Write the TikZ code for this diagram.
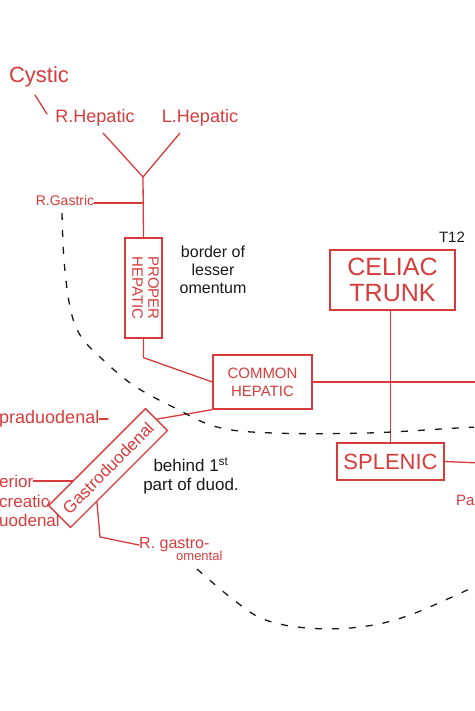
\documentclass[tikz,border=0pt]{standalone}
\usepackage{fontspec}
\setmainfont{Liberation Sans}
\usetikzlibrary{calc,backgrounds}
\definecolor{hred}{RGB}{214,60,60}
\definecolor{hblack}{RGB}{25,25,25}
\begin{document}
\begin{tikzpicture}[x=1pt,y=-1pt,
  redline/.style={draw=hred, line width=1.3pt, line cap=round, line join=round},
  box/.style={draw=hred, line width=1.3pt, fill=white, inner sep=0pt, align=center, text=hred},
  rlbl/.style={text=hred, inner sep=0pt},
  blbl/.style={text=hblack, inner sep=0pt, align=center},
  dashline/.style={draw=hblack, line width=1.3pt, dash pattern=on 7pt off 10pt},
  fs/.style={font=\fontsize{#1}{#1}\selectfont}
]
\useasboundingbox (0,0) rectangle (474,711);
\clip (0,0) rectangle (474,711);

% labels at the top
\node[rlbl, fs=22] (cystic) at (39,77) {Cystic};
\node[rlbl, fs=18] (rhep) at (95,118) {R.Hepatic};
\node[rlbl, fs=18] (lhep) at (200,118) {L.Hepatic};
\node[rlbl, fs=14] (rgas) at (65,200) {R.Gastric};
\coordinate (ybr) at (143,177);
\coordinate (rtip) at (103,133);
\coordinate (ltip) at (180,133);
\coordinate (gasj) at (143,203);
\coordinate (cys1) at (35,95);
\coordinate (cys2) at (47,114);
\coordinate (redge1) at (480,382);
\coordinate (redge2) at (480,463);
\coordinate (gobend) at (100,537);

% boxes
\node[box, minimum width=37, minimum height=100] (proper) at (143.5,288)
  {\rotatebox{-90}{\fontsize{15}{16}\selectfont\begin{tabular}{@{}c@{}}PROPER\\HEPATIC\end{tabular}}};
\node[box, minimum width=99, minimum height=54, font=\fontsize{15}{18}\selectfont] (ch) at (262.5,382) {COMMON\\HEPATIC};
\node[box, minimum width=125, minimum height=60, font=\fontsize{25}{26}\selectfont] (cel) at (392.5,280) {CELIAC\\TRUNK};
\node[box, minimum width=107, minimum height=37, fs=22] (sp) at (390.5,461.5) {SPLENIC};
\node[box, rotate=45, minimum width=137, minimum height=31, fs=17] (gd) at (108,468) {Gastroduodenal};

% other labels
\node[blbl, font=\fontsize{16}{18}\selectfont] (border) at (213,270) {border of\\lesser\\omentum};
\node[blbl, fs=15] (t12) at (452,237) {T12};
\node[rlbl, anchor=west, fs=15] (pa) at (456,500) {Pa};
\node[rlbl, anchor=west, fs=18] (supra) at (-1,419) {praduodenal};
\node[rlbl, anchor=west, fs=17] (sup) at (-1,481) {erior};
\node[rlbl, anchor=west, fs=17] (pcr) at (-1,501) {creatic};
\node[rlbl, anchor=west, fs=17] (duo) at (-1,520) {uodenal};
\node[rlbl, anchor=west, fs=16] (rgo1) at (139,545) {R. gastro-};
\node[rlbl, anchor=west, fs=13] (rgo2) at (176,556) {omental};
\node[blbl, font=\fontsize{17}{19}\selectfont] (behind) at (191,476) {behind 1\textsuperscript{st}\\part of duod.};

\begin{scope}[on background layer]
\draw[redline] (cys1) -- (cys2);
\draw[redline] (rtip) -- (ybr) -- (ltip);
\draw[redline] (ybr) -- (proper.north);
\draw[redline] (rgas.east |- gasj) -- (gasj);
\draw[redline] (proper.south) -- ++(0,19) -- (ch.west);
\draw[redline] (ch.east) -- (redge1);
\draw[redline] (sp.north |- cel.south) -- (sp.north);
\draw[redline] (sp.east) -- (redge2);
\draw[redline] (supra.east) -- (supra.east -| gd.center);
\draw[redline] (sup.east) -- (sup.east -| gd.center);
\draw[redline] (pcr.east) -- (gd.north west);
\draw[redline] (gd.east) -- (ch.south west);
\draw[redline] ($(gd.south west)!0.27!(gd.south east)$) -- (gobend) -- (rgo1.west);
\end{scope}

% dashed omentum borders
\draw[dashline] plot[smooth, tension=0.6] coordinates {(62,213) (64,260) (70,307) (80,335) (100,357) (133,385) (173,407) (217,427) (273,433) (367,433) (457,428) (480,427)};
\draw[dashline] plot[smooth, tension=0.6] coordinates {(197,569) (230,597) (263,619) (307,628) (360,627) (410,615) (480,584)};
\end{tikzpicture}
\end{document}
